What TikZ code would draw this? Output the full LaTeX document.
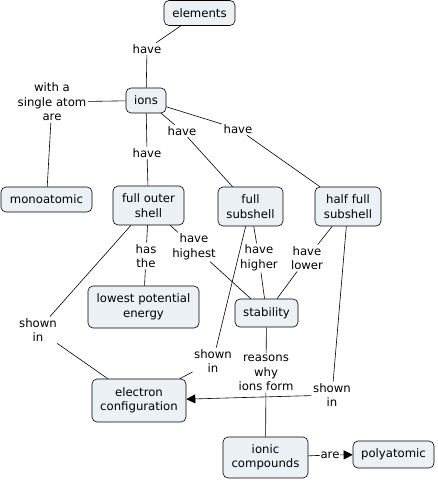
\documentclass[tikz,border=0pt]{standalone}
\usepackage{fontspec}
\newfontfamily\cmfont{DejaVu Sans}
\usetikzlibrary{arrows.meta}
\definecolor{cfill}{RGB}{235,241,244}
\newcommand\cmf{\cmfont\fontsize{11.7}{14.5}\selectfont}
\tikzset{
  concept/.style={draw=black, line width=0.6pt, rounded corners=5pt, fill=cfill, align=center, inner sep=0pt, font=\cmf},
  lbl/.style={align=center, inner sep=1.5pt, font=\cmf},
  link/.style={line width=0.6pt, draw=black},
  tip/.style={-{Triangle[length=9pt,width=9pt]}}
}
\begin{document}
\begin{tikzpicture}[x=1pt,y=-1pt]
\useasboundingbox (0,0) rectangle (437,482);
% concepts
\node[concept, minimum width=71pt, minimum height=25pt] (elements) at (199.5,13) {elements};
\node[concept, minimum width=40pt, minimum height=25pt] (ions) at (146,100.5) {ions};
\node[concept, minimum width=91pt, minimum height=25pt] (mono) at (46.5,199.5) {monoatomic};
\node[concept, minimum width=71pt, minimum height=39pt] (fos) at (148.5,205.5) {full outer\\shell};
\node[concept, minimum width=65pt, minimum height=39pt] (fss) at (250.5,206.5) {full\\subshell};
\node[concept, minimum width=66pt, minimum height=39pt] (hfs) at (348,206.5) {half full\\subshell};
\node[concept, minimum width=111pt, minimum height=42pt] (lpe) at (143.5,307) {lowest potential\\energy};
\node[concept, minimum width=63pt, minimum height=28pt] (stab) at (266.5,313) {stability};
\node[concept, minimum width=94pt, minimum height=43pt] (ec) at (139,400.5) {electron\\configuration};
\node[concept, minimum width=85pt, minimum height=41pt] (ic) at (265.5,457.5) {ionic\\compounds};
\node[concept, minimum width=81pt, minimum height=27pt] (poly) at (393.5,454.5) {polyatomic};
% link labels
\node[lbl] (l1) at (147,49) {have};
\node[lbl] (l2) at (52,102) {with a\\single atom\\are};
\node[lbl] (l3) at (147,153) {have};
\node[lbl] (l4) at (182,131) {have};
\node[lbl] (l5) at (238,129) {have};
\node[lbl] (l6) at (146,256) {has\\the};
\node[lbl] (l7) at (194,247) {have\\highest};
\node[lbl] (l8) at (259,258) {have\\higher};
\node[lbl] (l9) at (307,258) {have\\lower};
\node[lbl] (l10) at (38,330) {shown\\in};
\node[lbl] (l11) at (213,361) {shown\\in};
\node[lbl] (l12) at (266,373) {reasons\\why\\ions form};
\node[lbl] (l13) at (332,395) {shown\\in};
\node[lbl, inner sep=0.5pt] (l14) at (330,455) {are};
% connectors
\draw[link] (elements) -- (l1) -- (ions);
\draw[link] (ions) -- (l2) -- (mono);
\draw[link] (ions) -- (l3) -- (fos);
\draw[link] (ions) -- (l4) -- (fss);
\draw[link] (ions) -- (l5) -- (hfs);
\draw[link] (fos) -- (l6) -- (lpe);
\draw[link] (fos) -- (l7) -- (stab);
\draw[link] (fss) -- (l8) -- (stab);
\draw[link] (hfs) -- (l9) -- (stab);
\draw[link] (fos) -- (l10) -- (ec);
\draw[link] (fss) -- (l11) -- (ec);
\draw[link] (hfs) -- (l13);
\draw[link, tip] (l13) -- (ec);
\draw[link] (stab) -- (l12) -- (ic);
\draw[link] (ic) -- (l14);
\draw[link, tip] (l14) -- (poly);
\end{tikzpicture}
\end{document}
